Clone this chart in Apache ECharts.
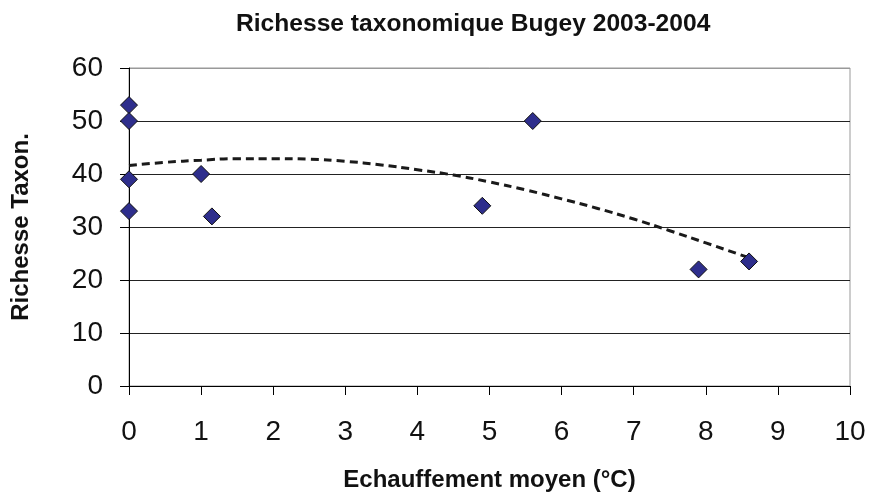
<!DOCTYPE html>
<html>
<head>
<meta charset="utf-8">
<script src="https://cdn.jsdelivr.net/npm/echarts@6/dist/echarts.min.js"></script>
<style>
  html, body { margin: 0; padding: 0; background: #fff; }
  #chart { width: 873px; height: 498px; }
</style>
</head>
<body>
<div id="chart"></div>
<script>
const echauffement = [0, 0, 0, 0, 1.0, 1.15, 4.9, 5.6, 7.9, 8.6]
const richesse = [53, 50, 39, 33, 40, 32, 34, 50, 22, 23.5]

// courbe de tendance (pointillés)
const tendanceX = [0, 0.5, 1, 1.5, 2, 2.5, 3, 3.5, 4, 4.5, 5, 5.5, 6, 6.5, 7, 7.5, 8, 8.6]
const tendanceY = [41.6, 42.2, 42.6, 42.9, 42.9, 42.8, 42.4, 41.7, 40.8, 39.8, 38.5, 37.0, 35.3, 33.5, 31.5, 29.3, 27.0, 24.2]

const xTicks = [0, 1, 2, 3, 4, 5, 6, 7, 8, 9, 10]
const yTicks = [0, 10, 20, 30, 40, 50, 60]

const font = "'Liberation Sans', Arial, sans-serif"

let myChart = echarts.init(document.getElementById('chart'), null, { renderer: 'canvas' })

let option = {
    backgroundColor: '#fff',
    animation: false,
    title: {
        text: 'Richesse taxonomique Bugey 2003-2004',
        left: 231,
        top: 7,
        textStyle: {
            fontFamily: font,
            fontSize: 24.6,
            fontWeight: 'bold',
            color: '#111'
        }
    },
    grid: {
        left: 129,
        right: 23,
        top: 68,
        bottom: 112,
        show: true,
        borderColor: '#999',
        borderWidth: 1,
        outerBoundsMode: 'none'
    },
    xAxis: {
        type: 'value',
        min: xTicks[0],
        max: xTicks[xTicks.length - 1],
        interval: 1,
        name: 'Echauffement moyen (°C)',
        nameLocation: 'middle',
        nameGap: 82,
        nameTextStyle: {
            fontFamily: font,
            fontSize: 24,
            fontWeight: 'bold',
            color: '#111'
        },
        axisLine: { show: true, onZero: false, lineStyle: { color: '#000', width: 1 } },
        axisTick: { show: true, inside: false, length: 9, lineStyle: { color: '#000' } },
        axisLabel: {
            margin: 32,
            fontFamily: font,
            fontSize: 28,
            color: '#111'
        },
        splitLine: { show: false }
    },
    yAxis: {
        type: 'value',
        min: yTicks[0],
        max: yTicks[yTicks.length - 1],
        interval: 10,
        name: 'Richesse Taxon.',
        nameLocation: 'middle',
        nameGap: 96,
        nameRotate: 90,
        nameTextStyle: {
            fontFamily: font,
            fontSize: 24,
            fontWeight: 'bold',
            color: '#111'
        },
        axisLine: { show: true, onZero: false, lineStyle: { color: '#000', width: 1 } },
        axisTick: { show: true, inside: false, length: 9, lineStyle: { color: '#000' } },
        axisLabel: {
            margin: 26,
            fontFamily: font,
            fontSize: 28,
            color: '#111'
        },
        splitLine: {
            show: true,
            lineStyle: {
                color: ['#222', '#222', '#222', '#222', '#222', '#222', '#999'],
                width: 1.2
            }
        }
    },
    series: [
        {
            name: 'tendance',
            type: 'line',
            data: tendanceX.map((x, i) => [x, tendanceY[i]]),
            smooth: true,
            showSymbol: false,
            z: 2,
            lineStyle: {
                color: '#1a1a1a',
                width: 3,
                type: [8, 5]
            }
        },
        {
            name: 'richesse',
            type: 'scatter',
            data: echauffement.map((x, i) => [x, richesse[i]]),
            symbol: 'diamond',
            symbolSize: 17,
            z: 3,
            itemStyle: {
                color: '#2e2e8c',
                borderColor: '#111',
                borderWidth: 1,
                opacity: 1
            }
        }
    ]
}

myChart.setOption(option)
</script>
</body>
</html>
